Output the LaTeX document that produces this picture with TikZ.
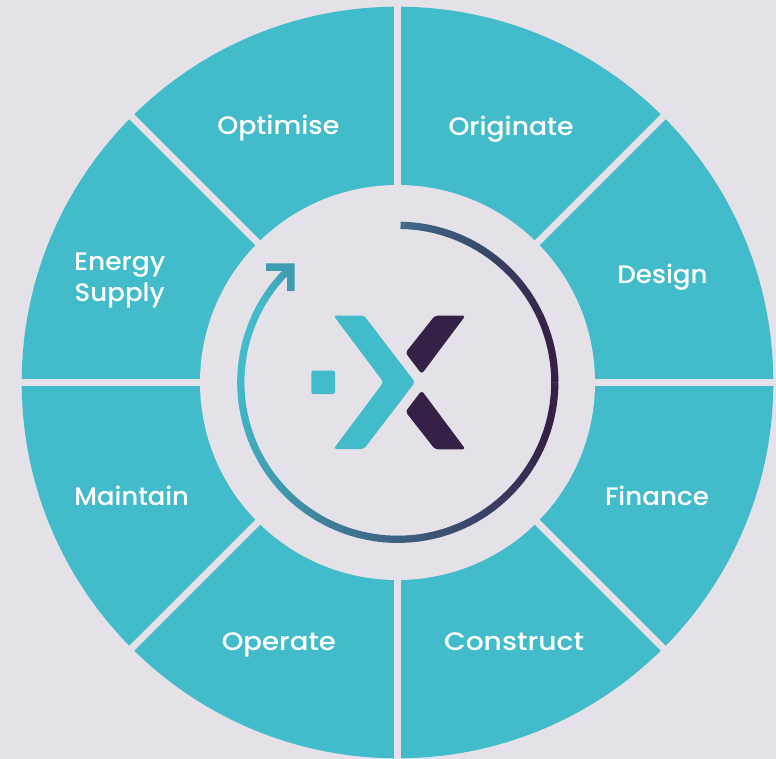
\documentclass[tikz,border=0pt]{standalone}
\usepackage{fontspec}
\usepackage{graphicx}
\usetikzlibrary{calc}
\setmainfont{Poppins Medium}
\definecolor{bgc}{HTML}{E4E1E8}
\definecolor{teal1}{HTML}{42BBCB}
\definecolor{dark1}{HTML}{352046}
\definecolor{ca}{HTML}{406A8A}
\definecolor{cb}{HTML}{3A4A6C}
\definecolor{cc}{HTML}{352046}
\definecolor{cd}{HTML}{3A3A60}
\definecolor{ce}{HTML}{3D6080}
\definecolor{cf}{HTML}{3F9BB0}
\definecolor{cg}{HTML}{42BBCB}
\newcommand{\fitw}[2]{\resizebox{#1pt}{\height}{#2}}
\tikzset{
  lab/.style={text=white,font=\fontsize{25.3}{30}\selectfont,anchor=base,inner sep=0pt},
  gapline/.style={draw=bgc,line width=7pt},
  logoshape/.style={rounded corners=3pt},
}
\begin{document}
\begin{tikzpicture}[x=1pt,y=-1pt]
\useasboundingbox (0,0) rectangle (776,759);
\fill[bgc] (0,0) rectangle (776,759);
\coordinate (c) at (397.5,382.5);
\fill[teal1] (c) circle[radius=375.8pt];
\foreach \a in {0,45,90,135}{
  \draw[gapline] ($(c)+(\a:-380pt)$) -- ($(c)+(\a:380pt)$);
}
\fill[bgc] (c) circle[radius=197.5pt];
% ring
\coordinate (r) at (397.8,382.3);
\foreach \s/\e/\ca/\cb in {89/60/ca/cb,60/20/cb/cc,20/-20/cc/cc,-20/-50/cc/cd,-50/-90/cd/ce,-90/-140/ce/cf,-140/-180/cf/cg,-180/-210/cg/cg,-210/-226/cg/cf}{
  \pgfmathsetmacro{\n}{int(\s-\e)}
  \foreach \i in {1,...,\n}{
    \pgfmathsetmacro{\p}{100*(\i-0.5)/\n}
    \pgfmathsetmacro{\aa}{\s-\i+1}
    \pgfmathsetmacro{\bb}{\s-\i-0.15}
    \draw[line width=7.2pt,color=\cb!\p!\ca] ($(r)+(\aa:157pt)$) arc[start angle=\aa,end angle=\bb,radius=157pt];
  }
}
% arrowhead
\fill[cf] (266,263.5) -- (294.7,263.5) -- (294.7,291) -- (287,291) -- (287,271) -- (266,271) -- cycle;
% logo
\fill[teal1,logoshape] (333.5,315.5) -- (364,315.5) -- (415,382.2) -- (364,449) -- (333.5,449) -- (383.5,382.2) -- cycle;
\fill[dark1,logoshape] (435,315.5) -- (465.5,315.5) -- (421.7,374) -- (405.5,352.7) -- cycle;
\fill[dark1,logoshape] (421.7,390.5) -- (465.5,449.3) -- (435,449.3) -- (405.5,411.7) -- cycle;
\fill[teal1,rounded corners=2pt] (311.3,370.7) rectangle (335,394);
% labels
\node[lab] (optimise) at (278.3,135) {\fitw{122}{Optimise}};
\node[lab] (originate) at (511,135.5) {\fitw{125}{Originate}};
\node[lab] (design) at (662.5,283.2) {\fitw{90.5}{Design}};
\node[lab] (finance) at (657,505) {\fitw{104}{Finance}};
\node[lab] (construct) at (514,650) {\fitw{140}{Construct}};
\node[lab] (operate) at (278.8,650) {\fitw{114}{Operate}};
\node[lab] (maintain) at (131.7,505) {\fitw{114.5}{Maintain}};
\node[lab,anchor=base west] (energy) at (74,270) {\fitw{91}{Energy}};
\node[lab,anchor=base west] (supply) at (74.5,301.5) {\fitw{90}{Supply}};
\end{tikzpicture}
\end{document}
